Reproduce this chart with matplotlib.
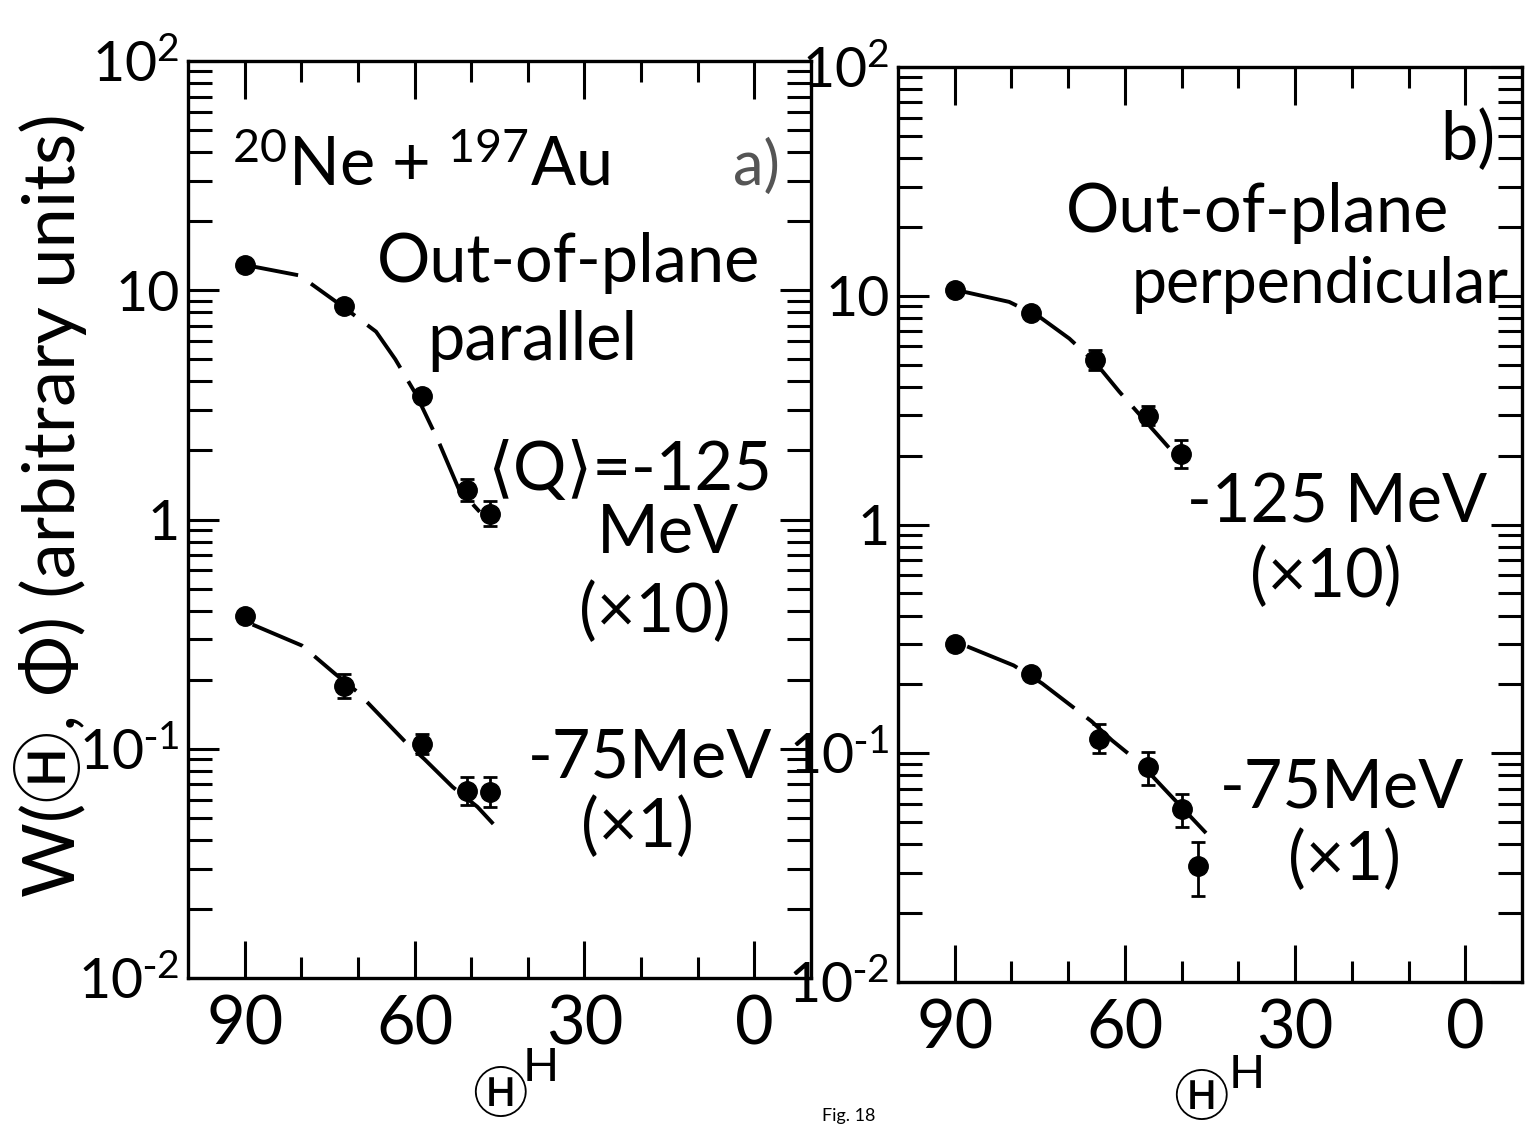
import matplotlib
matplotlib.use("Agg")
import matplotlib.pyplot as plt
import numpy as np
from matplotlib.ticker import FixedLocator, NullFormatter

plt.rcParams["font.family"] = ["Lato", "DejaVu Sans", "Noto Sans CJK JP"]
plt.rcParams["mathtext.default"] = "regular"

# panel a) out-of-plane parallel
theta_a = [90, 72.5, 58.7, 50.8, 46.6]
w_a_125 = [12.9, 8.5, 3.44, 1.34, 1.06]
w_a_125_lo = [12.9, 8.5, 3.44, 1.20, 0.94]
w_a_125_hi = [12.9, 8.5, 3.44, 1.50, 1.20]
w_a_75 = [0.381, 0.187, 0.105, 0.0656, 0.0649]
w_a_75_lo = [0.381, 0.166, 0.095, 0.057, 0.0558]
w_a_75_hi = [0.381, 0.211, 0.116, 0.0755, 0.0755]

fit_a_125_theta = [90, 80.3, 72.7, 66.8, 63.4, 59.7, 55.8, 52.2, 48.5]
fit_a_125 = [12.9, 11.6, 8.5, 6.6, 5.0, 3.5, 2.2, 1.36, 1.08]
fit_a_75_theta = [88.6, 79.9, 74.1, 70.1, 61.6, 58.3, 53.3, 48.9, 46.1]
fit_a_75 = [0.348, 0.282, 0.213, 0.177, 0.107, 0.0903, 0.0682, 0.0558, 0.047]

# panel b) out-of-plane perpendicular
theta_b_125 = [90, 76.5, 65.2, 56.0, 50.2]
w_b_125 = [10.6, 8.43, 5.25, 2.99, 2.04]
w_b_125_lo = [10.6, 8.43, 4.75, 2.71, 1.76]
w_b_125_hi = [10.6, 8.43, 5.80, 3.30, 2.33]
theta_b_75 = [90, 76.5, 64.6, 56.0, 50.0, 47.1]
w_b_75 = [0.299, 0.223, 0.115, 0.0869, 0.0569, 0.0321]
w_b_75_lo = [0.285, 0.212, 0.100, 0.0725, 0.0475, 0.0238]
w_b_75_hi = [0.313, 0.234, 0.134, 0.101, 0.0662, 0.0408]

fit_b_125_theta = [88.3, 80.4, 75.1, 69.8, 65.2, 61.0, 56.0, 51.3]
fit_b_125 = [10.4, 9.4, 8.1, 6.5, 5.1, 3.81, 2.76, 2.04]
fit_b_75_theta = [87.8, 79.6, 74.6, 65.9, 62.3, 57.3, 51.5, 45.7]
fit_b_75 = [0.293, 0.242, 0.202, 0.138, 0.114, 0.0904, 0.0636, 0.0448]

y_ticks = [1e-2, 1e-1, 1, 10, 1e2]
y_ticklabels = [r"$10^{\text{-}2}$", r"$10^{\text{-}1}$", "1", "10", "$10^{2}$"]
x_major = [90, 60, 30, 0]
x_minor = [80, 70, 50, 40, 20, 10]

W, H = 1527, 1126
fig = plt.figure(figsize=(W / 100, H / 100), dpi=100)


def fpos(x, y):
    return x / W, 1 - y / H


def setup(ax):
    ax.set_yscale("log")
    ax.set_xlim(100, -10)
    ax.set_ylim(1e-2, 1e2)
    for s in ax.spines.values():
        s.set_linewidth(2.4)
    ax.xaxis.set_major_locator(FixedLocator(x_major))
    ax.xaxis.set_minor_locator(FixedLocator(x_minor))
    ax.set_xticklabels([str(v) for v in x_major])
    ax.xaxis.set_minor_formatter(NullFormatter())
    ax.yaxis.set_major_locator(FixedLocator(y_ticks))
    ax.set_yticklabels(y_ticklabels)
    ax.yaxis.set_minor_formatter(NullFormatter())
    ax.tick_params(which="both", direction="in", top=True, right=True, width=2.2)
    ax.tick_params(axis="x", which="major", length=27, labelsize=48, pad=12)
    ax.tick_params(axis="x", which="minor", length=15)
    ax.tick_params(axis="y", which="major", length=22, labelsize=40, pad=6)
    ax.tick_params(axis="y", which="minor", length=17)


def draw(ax, th, w, lo, hi, fth, fw):
    ax.plot(fth, fw, color="black", lw=2.8, ls=(0, (14, 4)), solid_capstyle="butt")
    w = np.asarray(w)
    yerr = [w - np.asarray(lo), np.asarray(hi) - w]
    ax.errorbar(th, w, yerr=yerr, fmt="o", color="black", ms=14, elinewidth=2,
                capsize=5, capthick=2)


ax_a = fig.add_axes([188 / W, 1 - 978 / H, 623 / W, 917 / H])
ax_b = fig.add_axes([898 / W, 1 - 982 / H, 624 / W, 915 / H])
for ax in (ax_a, ax_b):
    setup(ax)

draw(ax_a, theta_a, w_a_125, w_a_125_lo, w_a_125_hi, fit_a_125_theta, fit_a_125)
draw(ax_a, theta_a, w_a_75, w_a_75_lo, w_a_75_hi, fit_a_75_theta, fit_a_75)
draw(ax_b, theta_b_125, w_b_125, w_b_125_lo, w_b_125_hi, fit_b_125_theta, fit_b_125)
draw(ax_b, theta_b_75, w_b_75, w_b_75_lo, w_b_75_hi, fit_b_75_theta, fit_b_75)

big = 48
fig.text(*fpos(232, 185), "$^{20}$Ne + $^{197}$Au", fontsize=big, ha="left", va="baseline")
fig.text(*fpos(780, 185), "a)", fontsize=44, ha="right", va="baseline", color="#555555")
fig.text(*fpos(569, 282), "Out-of-plane", fontsize=big, ha="center", va="baseline")
fig.text(*fpos(532, 360), "parallel", fontsize=big, ha="center", va="baseline")
fig.text(*fpos(772, 490), "\u27e8Q\u27e9=-125", fontsize=big, ha="right", va="baseline",
         family=["Lato", "Noto Sans CJK JP", "DejaVu Sans"])
fig.text(*fpos(668, 553), "MeV", fontsize=big, ha="center", va="baseline")
fig.text(*fpos(655, 632), "(\u00d710)", fontsize=big, ha="center", va="baseline")
fig.text(*fpos(772, 777), "-75MeV", fontsize=big, ha="right", va="baseline")
fig.text(*fpos(637, 847), "(\u00d71)", fontsize=big, ha="center", va="baseline")

fig.text(*fpos(1495, 160), "b)", fontsize=big, ha="right", va="baseline")
fig.text(*fpos(1258, 232), "Out-of-plane", fontsize=big, ha="center", va="baseline")
fig.text(*fpos(1320, 303), "perpendicular", fontsize=45, ha="center", va="baseline")
fig.text(*fpos(1337, 522), "-125 MeV", fontsize=big, ha="center", va="baseline")
fig.text(*fpos(1326, 597), "(\u00d710)", fontsize=big, ha="center", va="baseline")
fig.text(*fpos(1342, 807), "-75MeV", fontsize=big, ha="center", va="baseline")
fig.text(*fpos(1344, 880), "(\u00d71)", fontsize=big, ha="center", va="baseline")

circ_h = ["Noto Sans CJK JP", "DejaVu Sans"]
fig.text(*fpos(50, 505), "W(\u24bd, \u03a6) (arbitrary units)", fontsize=52,
         rotation=90, ha="center", va="center",
         family=["Lato", "Noto Sans CJK JP", "DejaVu Sans"])
fig.text(*fpos(500, 1097), "\u24bd", fontsize=40, ha="center", va="center", family=circ_h)
fig.text(*fpos(541, 1068), "H", fontsize=34, ha="center", va="center")
fig.text(*fpos(1201, 1100), "\u24bd", fontsize=40, ha="center", va="center", family=circ_h)
fig.text(*fpos(1247, 1075), "H", fontsize=34, ha="center", va="center")
fig.text(*fpos(822, 1124), "Fig. 18", fontsize=13, ha="left", va="bottom")

fig.savefig("out.png", dpi=100)
